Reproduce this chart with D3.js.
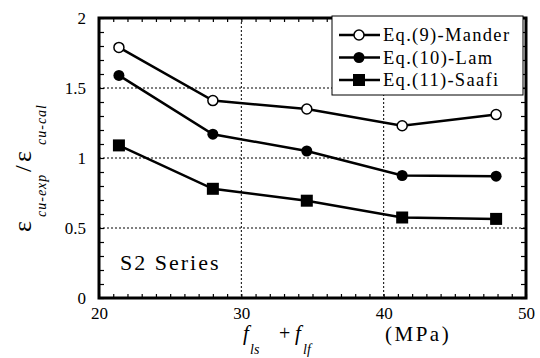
<!DOCTYPE html>
<html>
<head>
<meta charset="utf-8">
<script src="https://cdn.jsdelivr.net/npm/d3@7"></script>
<style>
  body { margin: 0; background: #fff; }
</style>
</head>
<body>
<svg id="chart"></svg>
<script>
// data
const confinement = [21.4, 28.0, 34.6, 41.3, 47.9];
const mander = [1.79, 1.41, 1.35, 1.23, 1.31];
const lam = [1.59, 1.17, 1.05, 0.875, 0.87];
const saafi = [1.09, 0.78, 0.695, 0.575, 0.565];
const seriesNames = ['Eq.(9)-Mander', 'Eq.(10)-Lam', 'Eq.(11)-Saafi'];
const xTicks = [20, 30, 40, 50];
const yTicks = [0, 0.5, 1, 1.5, 2];
const yTickLabels = ['0', '0.5', '1', '1.5', '2'];

const SERIF = '"Liberation Serif"';

const config = {
  containerWidth: 540,
  containerHeight: 358,
  margin: { top: 18, right: 14, bottom: 60, left: 99 }
};
const width = config.containerWidth - config.margin.left - config.margin.right;
const height = config.containerHeight - config.margin.top - config.margin.bottom;

const svg = d3.select('#chart')
  .attr('width', config.containerWidth)
  .attr('height', config.containerHeight);

const chart = svg.append('g')
  .attr('transform', `translate(${config.margin.left},${config.margin.top})`);

const xScale = d3.scaleLinear().domain([20, 50]).range([0, width]);
const yScale = d3.scaleLinear().domain([0, 2]).range([height, 0]);

// dotted grid at the inner major ticks
chart.selectAll('.grid-y')
  .data(yTicks.slice(1, -1))
  .join('line')
  .attr('x1', 0).attr('x2', width)
  .attr('y1', d => yScale(d)).attr('y2', d => yScale(d))
  .style('stroke', '#000').style('stroke-width', 1).style('stroke-dasharray', '2,2');

chart.selectAll('.grid-x')
  .data(xTicks.slice(1, -1))
  .join('line')
  .attr('y1', 0).attr('y2', height)
  .attr('x1', d => xScale(d)).attr('x2', d => xScale(d))
  .style('stroke', '#000').style('stroke-width', 1).style('stroke-dasharray', '2,2');

// minor ticks on all four sides, pointing inward
const xMinor = d3.range(20, 50.01, 1);
const yMinor = d3.range(0, 2.001, 0.1);

function styleAxis(g) {
  g.attr('font-family', null);
  g.select('.domain').remove();
  g.selectAll('line').style('stroke', '#000').style('stroke-width', 1.2);
  g.selectAll('text').style('font-family', SERIF).style('font-size', '17px').style('fill', '#000');
}

chart.append('g')
  .attr('transform', `translate(0,${height})`)
  .call(d3.axisBottom(xScale).tickValues(xMinor).tickSize(-4).tickFormat(''))
  .call(styleAxis);
chart.append('g')
  .call(d3.axisTop(xScale).tickValues(xMinor).tickSize(-4).tickFormat(''))
  .call(styleAxis);
chart.append('g')
  .call(d3.axisLeft(yScale).tickValues(yMinor).tickSize(-5).tickFormat(''))
  .call(styleAxis);
chart.append('g')
  .attr('transform', `translate(${width},0)`)
  .call(d3.axisRight(yScale).tickValues(yMinor).tickSize(-5).tickFormat(''))
  .call(styleAxis);

// tick labels
chart.append('g')
  .attr('transform', `translate(0,${height})`)
  .call(d3.axisBottom(xScale).tickValues(xTicks).tickSize(0).tickPadding(9).tickFormat(d3.format('d')))
  .call(styleAxis);

chart.append('g')
  .call(d3.axisLeft(yScale).tickValues(yTicks).tickSize(0).tickPadding(13).tickFormat((d, i) => yTickLabels[i]))
  .call(styleAxis);

// frame
chart.append('rect')
  .attr('width', width).attr('height', height)
  .attr('fill', 'none').attr('stroke', '#000').attr('stroke-width', 3);

// series
const series = [
  { name: seriesNames[0], values: mander, marker: 'open' },
  { name: seriesNames[1], values: lam, marker: 'dot' },
  { name: seriesNames[2], values: saafi, marker: 'square' }
];

const line = d3.line()
  .x((d, i) => xScale(confinement[i]))
  .y(d => yScale(d));

function drawMarker(g, type, x, y) {
  if (type === 'open') {
    g.append('circle').attr('cx', x).attr('cy', y).attr('r', 5)
      .attr('fill', '#fff').attr('stroke', '#000').attr('stroke-width', 1.5);
  } else if (type === 'dot') {
    g.append('circle').attr('cx', x).attr('cy', y).attr('r', 5.5).attr('fill', '#000');
  } else {
    g.append('rect').attr('x', x - 6).attr('y', y - 6).attr('width', 12).attr('height', 12).attr('fill', '#000');
  }
}

series.forEach(s => {
  chart.append('path')
    .datum(s.values)
    .attr('d', line)
    .attr('fill', 'none')
    .attr('stroke', '#000')
    .attr('stroke-width', 2.5);
  const mg = chart.append('g');
  s.values.forEach((v, i) => drawMarker(mg, s.marker, xScale(confinement[i]), yScale(v)));
});

// helper for plain text labels
function label(parent, x, y, size, str, opts = {}) {
  const t = parent.append('text')
    .attr('x', x).attr('y', y)
    .style('font-family', SERIF)
    .attr('font-size', size)
    .text(str);
  if (opts.italic) t.style('font-style', 'italic');
  if (opts.spacing) t.attr('letter-spacing', opts.spacing);
  return t;
}

// legend box (overlaps the top frame like the original)
const legend = svg.append('g').attr('transform', 'translate(332,16)');
legend.append('rect')
  .attr('width', 191).attr('height', 79)
  .attr('fill', '#fff').attr('stroke', '#000').attr('stroke-width', 1);

series.forEach((s, i) => {
  const y = 19 + i * 22.5;
  legend.append('line')
    .attr('x1', 7).attr('x2', 48).attr('y1', y).attr('y2', y)
    .attr('stroke', '#000').attr('stroke-width', 2.5);
  drawMarker(legend, s.marker, 27, y);
  label(legend, 51, y + 6, 18.5, s.name, { spacing: 1.3 });
});

// series annotation
label(svg, 120, 270, 22, 'S2 Series', { spacing: 2 });

// y axis title: eps_cu-exp / eps_cu-cal
const yTitle = svg.append('g').attr('transform', 'translate(31,232) rotate(-90)');
label(yTitle, 0, 0, 26, 'ε');
label(yTitle, 15, 15, 14, 'cu-exp', { italic: true, spacing: 1 });
label(yTitle, 60, 0, 24, '/');
label(yTitle, 70, 0, 26, 'ε');
label(yTitle, 87, 15, 14, 'cu-cal', { italic: true, spacing: 1 });

// x axis title: f_ls + f_lf (MPa)
label(svg, 243, 340, 21, 'f', { italic: true });
label(svg, 250, 354, 14, 'ls', { italic: true });
label(svg, 279, 340, 20, '+');
label(svg, 295, 340, 21, 'f', { italic: true });
label(svg, 303, 354, 14, 'lf', { italic: true });
label(svg, 385, 341, 21, '(MPa)', { spacing: 2.5 });
</script>
</body>
</html>
